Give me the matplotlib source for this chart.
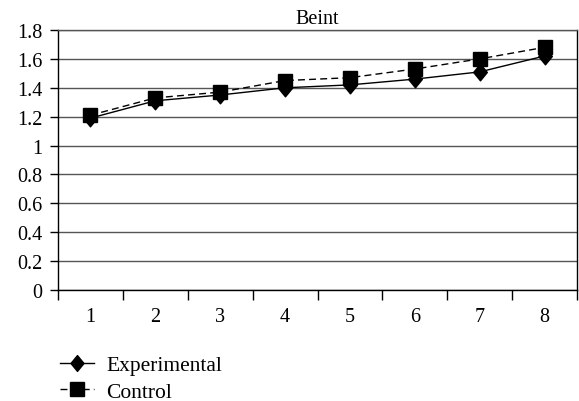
import matplotlib
matplotlib.use("Agg")
import matplotlib.pyplot as plt
from matplotlib.ticker import FixedLocator

# data
sessions = [1, 2, 3, 4, 5, 6, 7, 8]
experimental = [1.19, 1.31, 1.35, 1.40, 1.42, 1.46, 1.51, 1.62]
control = [1.21, 1.33, 1.37, 1.45, 1.47, 1.53, 1.60, 1.68]
yticks = [0, 0.2, 0.4, 0.6, 0.8, 1, 1.2, 1.4, 1.6, 1.8]
ytick_labels = ["0", "0.2", "0.4", "0.6", "0.8", "1", "1.2", "1.4", "1.6", "1.8"]

plt.rcParams["font.family"] = ["Liberation Serif", "DejaVu Serif"]
FS = 14.5

# diamond a bit narrower than tall, like the reference
diamond = [(-0.82, 0), (0, 1), (0.82, 0), (0, -1), (-0.82, 0)]

fig = plt.figure(figsize=(5.79, 4.02), dpi=100)
ax = fig.add_axes([58 / 579, 1 - 291 / 402, 519 / 579, 260 / 402])

ax.plot(sessions, experimental, color="black", lw=1.0, marker=diamond,
        markersize=12, label="Experimental", zorder=3)
ax.plot(sessions, control, color="black", lw=1.0, ls=(0, (5, 3)), marker="s",
        markersize=10.5, label="Control", zorder=4)

ax.set_xlim(0.5, 8.5)
ax.set_ylim(0, 1.8)
ax.set_yticks(yticks)
ax.set_yticklabels(ytick_labels)
ax.yaxis.grid(True, color="#555555", lw=1.0)
ax.set_axisbelow(True)

# ticks at category boundaries, labels centred
ax.xaxis.set_major_locator(FixedLocator([s - 0.5 for s in sessions] + [8.5]))
ax.set_xticklabels([])
ax.xaxis.set_minor_locator(FixedLocator(sessions))
ax.set_xticklabels([str(s) for s in sessions], minor=True)
ax.tick_params(axis="x", which="major", direction="out", length=7, width=1.0)
ax.tick_params(axis="x", which="minor", length=0, pad=12, labelsize=FS)
ax.tick_params(axis="y", direction="out", length=6, width=1.0, pad=5,
               labelsize=FS)

for sp in ax.spines.values():
    sp.set_color("black")
    sp.set_linewidth(1.0)
ax.spines["top"].set_color("#555555")

ax.set_title("Beint", fontsize=FS, pad=5)

fig.legend(loc="upper left", bbox_to_anchor=(60 / 579, 1 - 356 / 402),
           frameon=False, fontsize=15.5, handlelength=1.6, handletextpad=0.55,
           labelspacing=0.3, borderaxespad=0, borderpad=0, markerscale=0.95)

fig.savefig("out.png", dpi=100)
